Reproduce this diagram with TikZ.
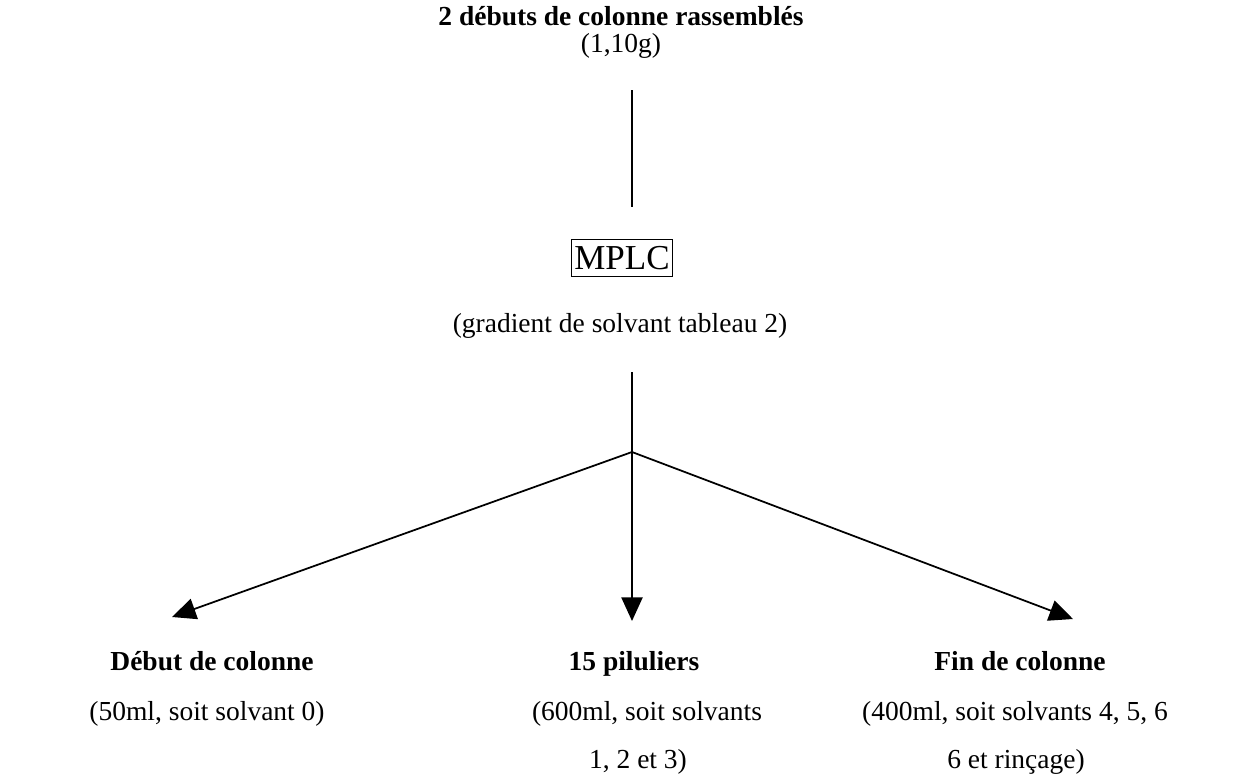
\documentclass[tikz,border=0pt]{standalone}
\usepackage{fontspec}
\setmainfont{Liberation Serif}
\usetikzlibrary{arrows.meta}
\begin{document}
\begin{tikzpicture}[x=0.4pt,y=-0.4pt,
  txt/.style={inner sep=0pt,anchor=base,font=\fontsize{11}{13}\selectfont},
  head/.style={txt,font=\fontsize{11}{13}\selectfont\bfseries},
  flow/.style={line width=0.7pt},
  arr/.style={flow,-{Triangle[length=9.5pt,width=8.5pt]}}]
\useasboundingbox (0,0) rectangle (1241,781);
% source sample
\node[head] (src) at (621,25) {2 débuts de colonne rassemblés};
\node[txt]  (mass) at (621,52) {(1,10g)};
\coordinate (t1) at (632,90);
\coordinate (t2) at (632,207);
\draw[flow] (t1) -- (t2);
% chromatography step
\node[draw,line width=0.5pt,inner xsep=1.2pt,inner ysep=2.6pt,font=\fontsize{14}{16}\selectfont] (mplc) at (622,258) {MPLC};
\node[txt] (grad) at (620,332) {(gradient de solvant tableau 2)};
\coordinate (g1) at (632,372);
\coordinate (split) at (632,452);
% fractions
\coordinate (tipL) at (172,617);
\coordinate (tipM) at (632,621);
\coordinate (tipR) at (1073,619);
\draw[flow] (g1) -- (split);
\draw[arr] (split) -- (tipL);
\draw[arr] (split) -- (tipM);
\draw[arr] (split) -- (tipR);
\node[head] (fa) at (212,670) {Début de colonne};
\node[txt]  (fa1) at (207,720) {(50ml, soit solvant 0)};
\node[head] (fb) at (634,670) {15 piluliers};
\node[txt]  (fb1) at (647,720) {(600ml, soit solvants};
\node[txt]  (fb2) at (638,768) {1, 2 et 3)};
\node[head] (fc) at (1020,670) {Fin de colonne};
\node[txt]  (fc1) at (1015,720) {(400ml, soit solvants 4, 5, 6};
\node[txt]  (fc2) at (1016,768) {6 et rinçage)};
\end{tikzpicture}
\end{document}
